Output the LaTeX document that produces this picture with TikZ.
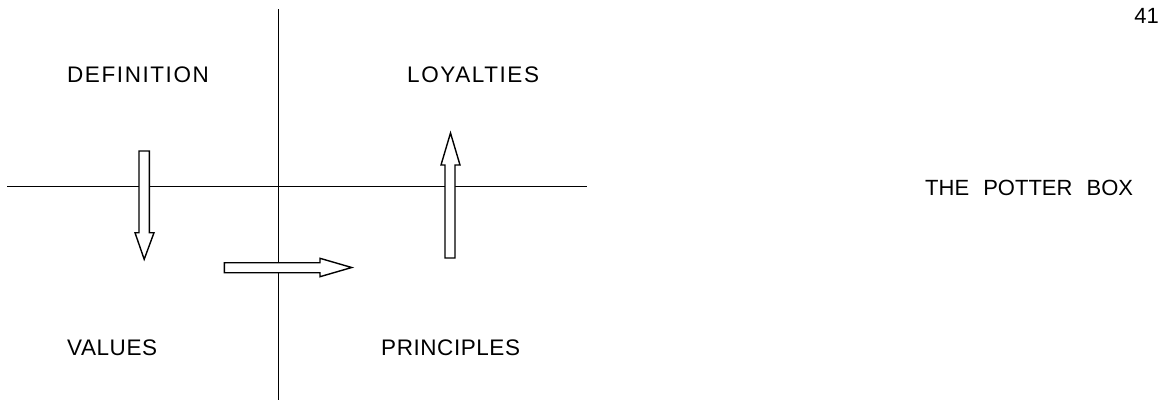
\documentclass[tikz,border=0pt]{standalone}
\usepackage{fontspec}
\setmainfont{Liberation Sans}
\newfontfamily\wideA{Liberation Sans}[LetterSpace=7]
\newfontfamily\wideB{Liberation Sans}[LetterSpace=2.5]
\begin{document}
\begin{tikzpicture}[x=1pt,y=-1pt,
  axis/.style={line width=1.2pt,black},
  blockarrow/.style={line width=1.4pt,black,fill=white,line join=miter},
  lbl/.style={anchor=base west,inner sep=0pt,font=\fontsize{22.5}{26}\selectfont},
  side/.style={inner sep=0pt,font=\fontsize{22}{26}\selectfont}]
\useasboundingbox (0,0) rectangle (1169,402);
% axes
\coordinate (vt) at (278.5,9);
\coordinate (vb) at (278.5,400);
\coordinate (hl) at (7,186.7);
\coordinate (hr) at (587,186.7);
\draw[axis] (vt) -- (vb);
\draw[axis] (hl) -- (hr);
% labels
\node[lbl] (def) at (67,82) {\wideA DEFINITION};
\node[lbl] (loy) at (407,82) {\wideA LOYALTIES};
\node[lbl] (val) at (67,355) {\wideB VALUES};
\node[lbl] (pri) at (381,355) {\wideB PRINCIPLES};
\node[side,anchor=base west] (box) at (925,195) {THE\hspace{8pt} POTTER\hspace{8pt} BOX};
\node[side,anchor=base east] (pg) at (1159,23) {41};
% block arrows
\draw[blockarrow] (139,151) -- (149.3,151) -- (149.3,232.7) -- (154,232.7) -- (144.2,259.3) -- (135,232.7) -- (139,232.7) -- cycle;
\draw[blockarrow] (224.3,262.7) -- (320,262.7) -- (320,258.3) -- (351.7,267.5) -- (320,276.7) -- (320,272.7) -- (224.3,272.7) -- cycle;
\draw[blockarrow] (445,258) -- (445,165) -- (441,165) -- (450.5,133) -- (460,165) -- (455,165) -- (455,258) -- cycle;
\end{tikzpicture}
\end{document}
